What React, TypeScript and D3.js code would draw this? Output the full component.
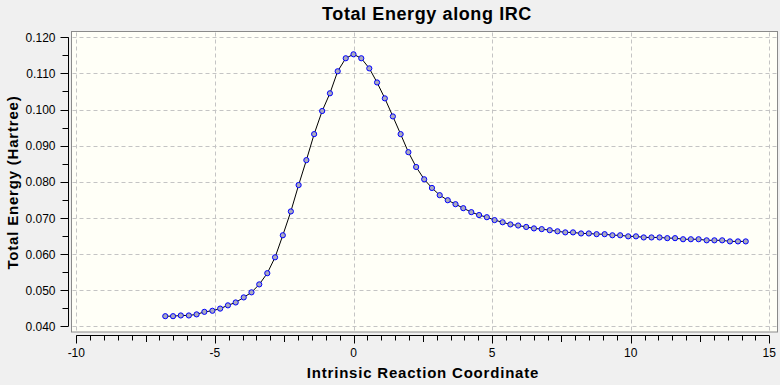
import React from "react";
import * as d3 from "d3";

const title = "Total Energy along IRC";
const xLabel = "Intrinsic Reaction Coordinate";
const yLabel = "Total Energy (Hartree)";

const ircCoord = [
  -6.79, -6.51, -6.23, -5.94, -5.66, -5.38, -5.09, -4.81, -4.53, -4.25, -3.96, -3.68,
  -3.40, -3.11, -2.83, -2.55, -2.26, -1.98, -1.70, -1.42, -1.13, -0.85, -0.57, -0.28,
  0, 0.28, 0.57, 0.85, 1.13, 1.42, 1.70, 1.98, 2.26, 2.55, 2.83, 3.11, 3.40, 3.68,
  3.96, 4.25, 4.53, 4.81, 5.09, 5.38, 5.66, 5.94, 6.23, 6.51, 6.79, 7.08, 7.36, 7.64,
  7.92, 8.21, 8.49, 8.77, 9.06, 9.34, 9.62, 9.91, 10.19, 10.47, 10.75, 11.04, 11.32,
  11.60, 11.89, 12.17, 12.45, 12.74, 13.02, 13.30, 13.58, 13.87, 14.15,
];

const totalEnergy = [
  0.0428, 0.0428, 0.0430, 0.0430, 0.0433, 0.0440, 0.0443, 0.0449, 0.0458, 0.0466,
  0.0480, 0.0494, 0.0516, 0.0547, 0.0591, 0.0652, 0.0718, 0.0791, 0.0860, 0.0932,
  0.0996, 0.1045, 0.1106, 0.1142, 0.1153, 0.1142, 0.1114, 0.1075, 0.1031, 0.0981,
  0.0932, 0.0882, 0.0841, 0.0807, 0.0783, 0.0763, 0.0749, 0.0738, 0.0727, 0.0716,
  0.0708, 0.0702, 0.0694, 0.0688, 0.0682, 0.0679, 0.0675, 0.0671, 0.0669, 0.0666,
  0.0663, 0.0660, 0.0660, 0.0657, 0.0657, 0.0655, 0.0655, 0.0652, 0.0652, 0.0649,
  0.0649, 0.0646, 0.0646, 0.0646, 0.0644, 0.0644, 0.0641, 0.0641, 0.0641, 0.0638,
  0.0638, 0.0638, 0.0635, 0.0635, 0.0635,
];

const xTickValues = [-10, -5, 0, 5, 10, 15];
const yTickValues = [0.04, 0.05, 0.06, 0.07, 0.08, 0.09, 0.1, 0.11, 0.12];

const FONT = "'Liberation Sans', Arial, sans-serif";

export default function App() {
  const W = 780;
  const H = 385;
  const x = d3.scaleLinear().domain([-10, 15]).range([76.3, 769.3]);
  const y = d3.scaleLinear().domain([0.04, 0.12]).range([326.3, 37.3]);

  const frame = { x0: 71.5, y0: 31.5, x1: 777.5, y1: 332 };
  const xAxisY = 335.5;
  const yAxisX = 68.5;

  const pts = ircCoord.map((c, i) => [c, totalEnergy[i]] as [number, number]);
  const line = d3
    .line<[number, number]>()
    .x((d) => x(d[0]))
    .y((d) => y(d[1]));

  const xMinor = d3.range(-10, 15.001, 0.5);
  const yMinor = d3.range(0.04, 0.12001, 0.005);

  return (
    <svg
      width={W}
      height={H}
      style={{ position: "fixed", left: 0, top: 0, background: "#f0f0f0" }}
      fontFamily={FONT}
    >
      <rect x={0} y={0} width={W} height={H} fill="#f0f0f0" />
      <rect
        x={frame.x0}
        y={frame.y0}
        width={frame.x1 - frame.x0}
        height={frame.y1 - frame.y0}
        fill="#fffff7"
        stroke="#8a8a8a"
        strokeWidth={1}
      />
      {/* grid */}
      {xTickValues.map((v) => (
        <line
          key={"gx" + v}
          x1={Math.round(x(v)) + 0.5}
          x2={Math.round(x(v)) + 0.5}
          y1={frame.y0 + 1}
          y2={frame.y1 - 1}
          stroke="#c4c4c4"
          strokeDasharray="4,3"
        />
      ))}
      {yTickValues.map((v) => (
        <line
          key={"gy" + v}
          x1={frame.x0 + 1}
          x2={frame.x1 - 1}
          y1={Math.round(y(v)) + 0.5}
          y2={Math.round(y(v)) + 0.5}
          stroke="#c4c4c4"
          strokeDasharray="4,3"
        />
      ))}
      {/* data */}
      <path d={line(pts) || ""} fill="none" stroke="#000" strokeWidth={1} />
      {pts.map((d, i) => (
        <circle
          key={"p" + i}
          cx={x(d[0])}
          cy={y(d[1])}
          r={2.6}
          fill="#aaaabe"
          stroke="#0000ff"
          strokeWidth={1}
        />
      ))}
      {/* x axis */}
      <line x1={x(-10)} x2={x(15)} y1={xAxisY} y2={xAxisY} stroke="#000" />
      {xMinor.map((v, i) => {
        const isMajor = Math.abs(v % 5) < 1e-6;
        const isMid = !isMajor && Math.abs(v % 2.5) < 1e-6;
        const len = isMajor ? 8 : isMid ? 6.5 : 5;
        const px = Math.round(x(v)) + 0.5;
        return <line key={"xt" + i} x1={px} x2={px} y1={xAxisY} y2={xAxisY + len} stroke="#000" />;
      })}
      {xTickValues.map((v) => (
        <text key={"xl" + v} x={x(v)} y={357} fontSize={12} textAnchor="middle" fill="#000">
          {v}
        </text>
      ))}
      {/* y axis */}
      <line x1={yAxisX} x2={yAxisX} y1={y(0.12)} y2={y(0.04)} stroke="#000" />
      {yMinor.map((v, i) => {
        const isMajor = i % 2 === 0;
        const len = isMajor ? 8 : 6;
        const py = Math.round(y(v)) + 0.5;
        return <line key={"yt" + i} x1={yAxisX - len} x2={yAxisX} y1={py} y2={py} stroke="#000" />;
      })}
      {yTickValues.map((v) => (
        <text key={"yl" + v} x={55.5} y={y(v) + 4.6} fontSize={12} textAnchor="end" fill="#000">
          {d3.format(".3f")(v)}
        </text>
      ))}
      {/* titles */}
      <text
        x={427}
        y={19.5}
        fontSize={18}
        fontWeight="bold"
        textAnchor="middle"
        letterSpacing={0.6}
        fill="#000"
      >
        {title}
      </text>
      <text
        x={423}
        y={378}
        fontSize={15}
        fontWeight="bold"
        textAnchor="middle"
        letterSpacing={0.8}
        fill="#000"
      >
        {xLabel}
      </text>
      <text
        transform={`translate(17.5,182.5) rotate(-90)`}
        fontSize={15}
        fontWeight="bold"
        textAnchor="middle"
        letterSpacing={0.8}
        fill="#000"
      >
        {yLabel}
      </text>
    </svg>
  );
}
